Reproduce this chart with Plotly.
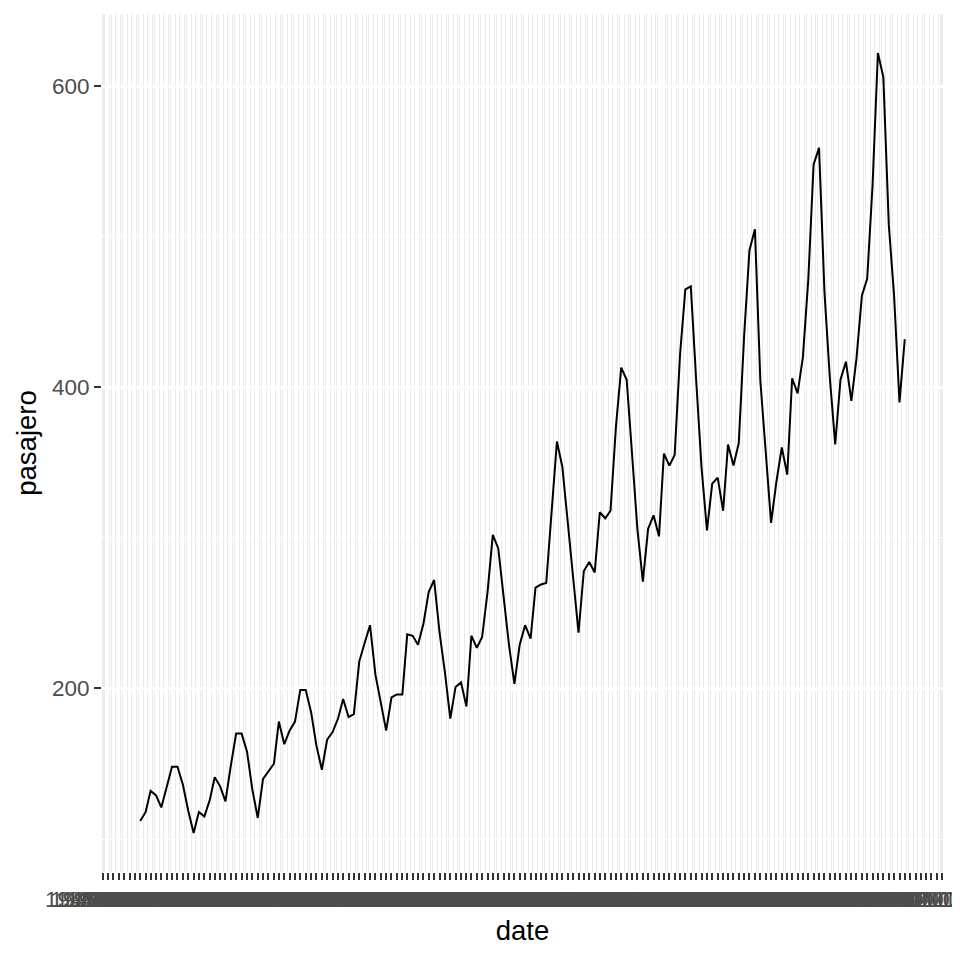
import pandas as pd
import plotly.graph_objects as go

# AirPassengers monthly totals (thousands), 1949-1960
pasajero = [
    112, 118, 132, 129, 121, 135, 148, 148, 136, 119, 104, 118,
    115, 126, 141, 135, 125, 149, 170, 170, 158, 133, 114, 140,
    145, 150, 178, 163, 172, 178, 199, 199, 184, 162, 146, 166,
    171, 180, 193, 181, 183, 218, 230, 242, 209, 191, 172, 194,
    196, 196, 236, 235, 229, 243, 264, 272, 237, 211, 180, 201,
    204, 188, 235, 227, 234, 264, 302, 293, 259, 229, 203, 229,
    242, 233, 267, 269, 270, 315, 364, 347, 312, 274, 237, 278,
    284, 277, 317, 313, 318, 374, 413, 405, 355, 306, 271, 306,
    315, 301, 356, 348, 355, 422, 465, 467, 404, 347, 305, 336,
    340, 318, 362, 348, 363, 435, 491, 505, 404, 359, 310, 337,
    360, 342, 406, 396, 420, 472, 548, 559, 463, 407, 362, 405,
    417, 391, 419, 461, 472, 535, 622, 606, 508, 461, 390, 432,
]
start_month = "1949-01-01"
dates = pd.date_range(start_month, periods=len(pasajero), freq="MS")

y_major = [200, 400, 600]
y_minor = [100, 300, 500]

# ggplot-like 5% expansion
span = dates[-1] - dates[0]
x0 = dates[0] - span * 0.05
x1 = dates[-1] + span * 0.05
ymin, ymax = min(pasajero), max(pasajero)
yspan = ymax - ymin
yr = [ymin - 0.05 * yspan, ymax + 0.05 * yspan]

# monthly major breaks and minor breaks halfway between them
majors = pd.date_range(x0.to_period("M").to_timestamp(), x1 + pd.offsets.MonthBegin(1), freq="MS")
minors = [majors[i] + (majors[i + 1] - majors[i]) / 2 for i in range(len(majors) - 1)]
major_in = [d for d in majors if x0 <= d <= x1]
minor_in = [d for d in minors if x0 <= d <= x1]

font_fam = "Liberation Sans, Arial, sans-serif"

fig = go.Figure()
fig.add_trace(go.Scatter(x=dates, y=pasajero, mode="lines",
                         line=dict(color="black", width=2), showlegend=False))

fig.update_layout(
    width=960, height=960,
    margin=dict(l=94, r=25, t=6, b=96),
    paper_bgcolor="white", plot_bgcolor="#EBEBEB",
    font=dict(family=font_fam),
)
fig.update_xaxes(
    type="date", range=[x0, x1], automargin=False,
    tickmode="array", tickvals=major_in,
    ticktext=[d.strftime("%Y-%m-%d") for d in major_in],
    tickangle=0,
    tickfont=dict(size=22.5, color="#4D4D4D"),
    ticks="outside", ticklen=7, tickwidth=2, tickcolor="#333333",
    showgrid=True, gridcolor="white", gridwidth=2.67,
    minor=dict(tickmode="array", tickvals=minor_in, showgrid=True,
               gridcolor="white", gridwidth=1.33, ticks=""),
    zeroline=False, showline=False,
    title=dict(text="date", font=dict(size=27.5, color="black"), standoff=9),
)
fig.update_yaxes(
    range=yr, automargin=False,
    tickmode="array", tickvals=y_major, ticktext=[str(v) for v in y_major],
    tickfont=dict(size=22.5, color="#4D4D4D"),
    ticks="outside", ticklen=7, tickwidth=2, tickcolor="#333333",
    showgrid=True, gridcolor="white", gridwidth=2.67,
    minor=dict(tickmode="array", tickvals=y_minor, showgrid=True,
               gridcolor="white", gridwidth=1.33, ticks=""),
    zeroline=False, showline=False,
    title=dict(text="pasajero", font=dict(size=27.5, color="black"), standoff=7),
)

fig.write_html("out.html")
